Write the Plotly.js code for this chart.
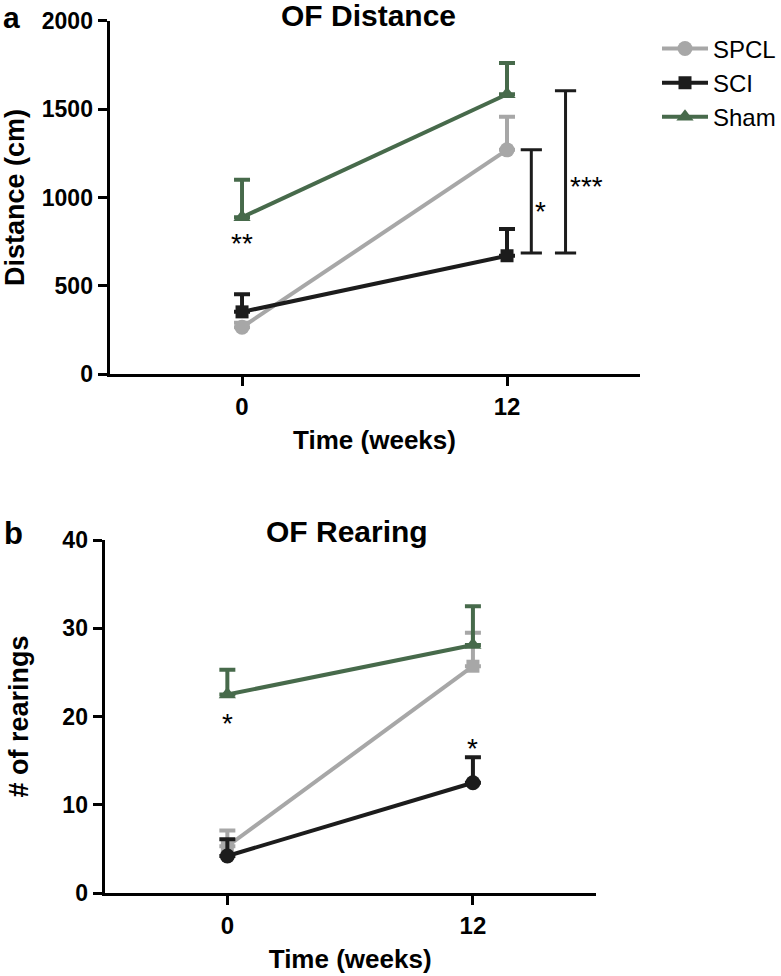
<!DOCTYPE html>
<html>
<head>
<meta charset="utf-8">
<script src="https://cdn.plot.ly/plotly-3.0.1.min.js"></script>
<style>
html,body{margin:0;padding:0;background:#fff;}
#chart{width:781px;height:976px;}
</style>
</head>
<body>
<div id="chart"></div>
<script>
// ---- data ----
var weeks = [0, 12];
var groups = ['SPCL', 'SCI', 'Sham'];

// Panel a: OF Distance (cm), mean and upper SEM
var distSPCL = [265, 1270];
var distSPCLerr = [25, 187];
var distSCI = [352, 670];
var distSCIerr = [100, 152];
var distSham = [888, 1585];
var distShamErr = [212, 177];

// Panel b: OF Rearing (# of rearings)
var rearSPCL = [5.3, 25.7];
var rearSPCLerr = [1.8, 3.8];
var rearSCI = [4.2, 12.5];
var rearSCIerr = [1.9, 2.9];
var rearSham = [22.5, 28.1];
var rearShamErr = [2.8, 4.4];

var xTicks = [0, 12];

// ---- styles ----
var cGray = '#a7a7a7', cBlack = '#1c1c1c', cGreen = '#476a4b';
var FONT = 'Arial, "Liberation Sans", Helvetica, sans-serif';

function tr(name, x, y, err, color, symbol, xa, ya, showleg, msize) {
  return {
    type: 'scatter', mode: 'lines+markers', name: name,
    x: x, y: y, xaxis: xa, yaxis: ya,
    showlegend: showleg, legendgroup: name,
    line: {color: color, width: 4},
    marker: {color: color, symbol: symbol, size: msize || 14},
    error_y: {type: 'data', symmetric: false, array: err, arrayminus: [0, 0],
              color: color, thickness: 4, width: 8},
    cliponaxis: false
  };
}

var data = [
  tr('SPCL', weeks, distSPCL, distSPCLerr, cGray, 'circle', 'x', 'y', true, 15),
  tr('SCI', weeks, distSCI, distSCIerr, cBlack, 'square', 'x', 'y', true, 13),
  tr('Sham', weeks, distSham, distShamErr, cGreen, 'triangle-up', 'x', 'y', true, 15),
  tr('SPCL', weeks, rearSPCL, rearSPCLerr, cGray, 'square', 'x2', 'y2', false, 13),
  tr('SCI', weeks, rearSCI, rearSCIerr, cBlack, 'circle', 'x2', 'y2', false, 15),
  tr('Sham', weeks, rearSham, rearShamErr, cGreen, 'triangle-up', 'x2', 'y2', false, 15)
];

function xax(domain, anchor) {
  return {
    domain: domain, anchor: anchor, range: [-6, 18],
    tickvals: xTicks, ticktext: xTicks.map(String),
    showline: true, linewidth: 3, linecolor: '#000',
    ticks: 'outside', ticklen: 9, tickwidth: 3, tickcolor: '#000',
    showgrid: false, zeroline: false, fixedrange: true,
    tickfont: {family: FONT, size: 24, color: '#000', weight: 700},
    title: {text: 'Time (weeks)', standoff: 12,
            font: {family: FONT, size: 26, color: '#000', weight: 700}}
  };
}
function yax(domain, anchor, range, dtick, title, standoff) {
  return {
    domain: domain, anchor: anchor, range: range, dtick: dtick,
    showline: true, linewidth: 3, linecolor: '#000',
    ticks: 'outside', ticklen: 9, tickwidth: 3, tickcolor: '#000',
    showgrid: false, zeroline: false, fixedrange: true,
    tickfont: {family: FONT, size: 23, color: '#000', weight: 700},
    title: {text: title, standoff: standoff,
            font: {family: FONT, size: 27, color: '#000', weight: 700}}
  };
}

// significance brackets (panel a, week 12): SCI vs SPCL, SCI vs Sham
var brX = [13.1, 14.65];
var brTop = [distSPCL[1], distSham[1] + 20];
var brLabel = ['*', '***'];
var capHalf = 0.48;
var shapes = [];
var annotations = [];
var labShift = [-10, -15];
for (var i = 0; i < brX.length; i++) {
  var lo = distSCI[1] + 15, hi = brTop[i];
  shapes.push({type: 'line', xref: 'x', yref: 'y', x0: brX[i], x1: brX[i], y0: lo, y1: hi, line: {color: cBlack, width: 3}});
  shapes.push({type: 'line', xref: 'x', yref: 'y', x0: brX[i] - capHalf, x1: brX[i] + capHalf, y0: lo, y1: lo, line: {color: cBlack, width: 3}});
  shapes.push({type: 'line', xref: 'x', yref: 'y', x0: brX[i] - capHalf, x1: brX[i] + capHalf, y0: hi, y1: hi, line: {color: cBlack, width: 3}});
  annotations.push({xref: 'x', yref: 'y', x: brX[i], y: (lo + hi) / 2, text: brLabel[i],
    showarrow: false, xanchor: 'left', yanchor: 'middle', xshift: 2, yshift: labShift[i],
    font: {family: FONT, size: 28, color: '#000'}});
}
// other significance marks
annotations.push({xref: 'x', yref: 'y', x: weeks[0], y: distSham[0], text: '**', showarrow: false,
  yanchor: 'top', yshift: -9, font: {family: FONT, size: 28, color: '#000'}});
annotations.push({xref: 'x2', yref: 'y2', x: weeks[0], y: rearSham[0], text: '*', showarrow: false,
  yanchor: 'top', yshift: -12, font: {family: FONT, size: 28, color: '#000'}});
annotations.push({xref: 'x2', yref: 'y2', x: weeks[1], y: rearSCI[1] + rearSCIerr[1], text: '*', showarrow: false,
  yanchor: 'bottom', yshift: -9, font: {family: FONT, size: 28, color: '#000'}});

// panel titles and letters
annotations.push({xref: 'paper', yref: 'paper', x: 0.474, y: 0.9845, text: 'OF Distance', showarrow: false,
  xanchor: 'center', yanchor: 'middle', font: {family: FONT, size: 30, color: '#000', weight: 700}});
annotations.push({xref: 'paper', yref: 'paper', x: 0.4456, y: 0.455, text: 'OF Rearing', showarrow: false,
  xanchor: 'center', yanchor: 'middle', font: {family: FONT, size: 30, color: '#000', weight: 700}});
annotations.push({xref: 'paper', yref: 'paper', x: 0.002, y: 1, text: 'a', showarrow: false,
  xanchor: 'left', yanchor: 'top', borderpad: 0, font: {family: FONT, size: 30, color: '#000', weight: 700}});
annotations.push({xref: 'paper', yref: 'paper', x: 0.002, y: 0.4529, text: 'b', showarrow: false,
  xanchor: 'left', yanchor: 'middle', font: {family: FONT, size: 31, color: '#000', weight: 700}});

var layout = {
  width: 781, height: 976,
  margin: {l: 0, r: 0, t: 0, b: 0},
  paper_bgcolor: '#fff', plot_bgcolor: '#fff',
  font: {family: FONT, color: '#000'},
  xaxis: xax([0.1408, 0.822], 'y'),
  yaxis: yax([0.6168, 0.9785], 'x', [0, 2000], 500, 'Distance (cm)', 12),
  xaxis2: xax([0.1344, 0.7657], 'y2'),
  yaxis2: yax([0.085, 0.4467], 'x2', [0, 40], 10, '# of rearings', 26),
  legend: {x: 0.845, y: 0.973, xanchor: 'left', yanchor: 'top',
           font: {family: FONT, size: 24, color: '#000'},
           itemwidth: 46,
           tracegroupgap: 13, traceorder: 'normal', bgcolor: 'rgba(0,0,0,0)'},
  shapes: shapes,
  annotations: annotations,
  showlegend: true
};

Plotly.newPlot('chart', data, layout, {displayModeBar: false, staticPlot: true});
</script>
</body>
</html>
